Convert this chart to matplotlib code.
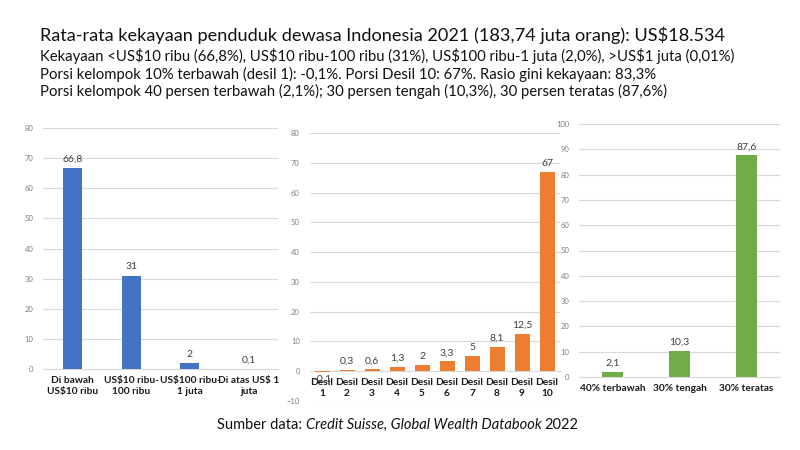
import matplotlib
matplotlib.use("Agg")
import matplotlib.pyplot as plt
from matplotlib.ticker import MultipleLocator

plt.rcParams['font.family'] = ['Lato', 'DejaVu Sans']
plt.rcParams['text.parse_math'] = False

# Data
cat1 = ["Di bawah\nUS$10 ribu", "US$10 ribu-\n100 ribu", "US$100 ribu-\n1 juta", "Di atas US$ 1\njuta"]
val1 = [66.8, 31, 2, 0.1]
lab1 = ["66,8", "31", "2", "0,1"]

cat2 = [f"Desil\n{i}" for i in range(1, 11)]
val2 = [-0.1, 0.3, 0.6, 1.3, 2, 3.3, 5, 8.1, 12.5, 67]
lab2 = ["-0,1", "0,3", "0,6", "1,3", "2", "3,3", "5", "8,1", "12,5", "67"]

cat3 = ["40% terbawah", "30% tengah", "30% teratas"]
val3 = [2.1, 10.3, 87.6]
lab3 = ["2,1", "10,3", "87,6"]

title = "Rata-rata kekayaan penduduk dewasa Indonesia 2021 (183,74 juta orang): US$18.534"
sub_lines = [
    "Kekayaan <US$10 ribu (66,8%), US$10 ribu-100 ribu (31%), US$100 ribu-1 juta (2,0%), >US$1 juta (0,01%)",
    "Porsi kelompok 10% terbawah (desil 1): -0,1%. Porsi Desil 10: 67%. Rasio gini kekayaan: 83,3%",
    "Porsi kelompok 40 persen terbawah (2,1%); 30 persen tengah (10,3%), 30 persen teratas (87,6%)",
]

W, H = 800, 450
fig = plt.figure(figsize=(8, 4.5), dpi=100)
fig.patch.set_facecolor("white")

def px_axes(x0, x1, ytop, ybot):
    return fig.add_axes([x0 / W, 1 - ybot / H, (x1 - x0) / W, (ybot - ytop) / H])

GRID = "#D9D9D9"
TICKC = "#808080"
VALC = "#404040"

def style(ax, ylim, step, cats, width, vals, labs, color, zero_spine=False):
    x = list(range(len(cats)))
    ax.bar(x, vals, width=width, color=color, zorder=3)
    ax.set_xlim(-0.5, len(cats) - 0.5)
    ax.set_ylim(*ylim)
    ax.yaxis.set_major_locator(MultipleLocator(step))
    ax.grid(axis="y", color=GRID, linewidth=0.8, zorder=0)
    for s in ["top", "right", "left"]:
        ax.spines[s].set_visible(False)
    ax.spines["bottom"].set_color(GRID)
    ax.spines["bottom"].set_linewidth(0.8)
    if zero_spine:
        ax.spines["bottom"].set_position(("data", 0))
    ax.tick_params(axis="y", length=0, labelsize=5.5, labelcolor=TICKC, pad=7)
    ax.tick_params(axis="x", length=0, labelsize=7.3, pad=5)
    ax.set_xticks(x)
    ax.set_xticklabels(cats, fontweight="bold", color="#1a1a1a", linespacing=1.3)
    for xi, v, l in zip(x, vals, labs):
        if v >= 0:
            ax.annotate(l, (xi, v), xytext=(0, 3), textcoords="offset points",
                        ha="center", va="bottom", fontsize=7.5, color=VALC)
        else:
            ax.annotate(l, (xi, v), xytext=(0, -2), textcoords="offset points",
                        ha="center", va="top", fontsize=7.5, color=VALC)
    ax.set_facecolor("none")

ax1 = px_axes(43, 278, 128, 369)
style(ax1, (0, 80), 10, cat1, 0.32, val1, lab1, "#4472C4")

ax2 = px_axes(309.5, 559.5, 133, 401)
style(ax2, (-10, 80), 10, cat2, 0.6, val2, lab2, "#ED7D31", zero_spine=True)

ax3 = px_axes(579, 780, 124, 377)
style(ax3, (0, 100), 10, cat3, 0.31, val3, lab3, "#70AD47")

fig.text(40 / W, 1 - 35 / H, title, fontsize=13.1, ha="left", va="center", color="#111111")
ys = [56, 74, 91]
for y, t in zip(ys, sub_lines):
    fig.text(40 / W, 1 - y / H, t, fontsize=10.7, ha="left", va="center", color="#111111")

FS = 10.5
t1 = fig.text(217 / W, 1 - 425 / H, "Sumber data: ", fontsize=FS, ha="left", va="center", color="#111111")
fig.canvas.draw()
bb = t1.get_window_extent()
t2 = fig.text(bb.x1 / W, 1 - 425 / H, "Credit Suisse, Global Wealth Databook", fontsize=FS,
              ha="left", va="center", color="#111111", style="italic")
fig.canvas.draw()
bb2 = t2.get_window_extent()
fig.text((bb2.x1 + 3) / W, 1 - 425 / H, "2022", fontsize=FS, ha="left", va="center", color="#111111")

fig.savefig("out.png", dpi=100)
